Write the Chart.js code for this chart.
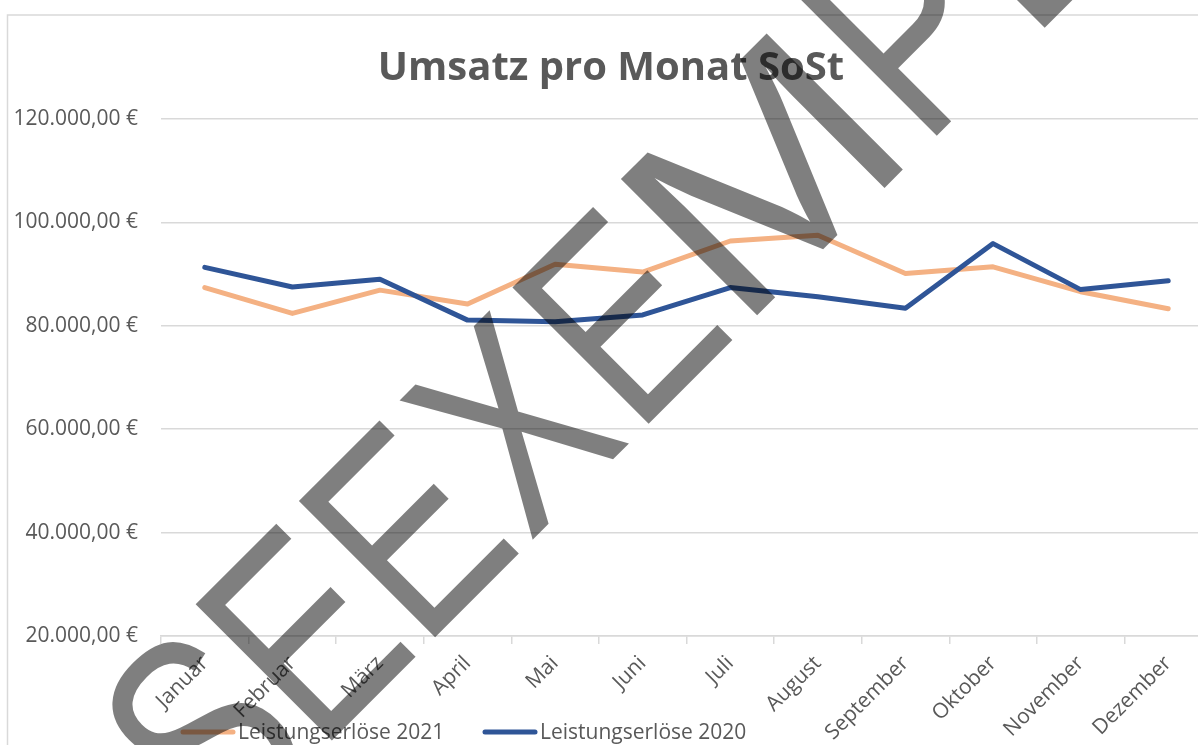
<!DOCTYPE html>
<html lang="de">
<head>
<meta charset="utf-8">
<title>Umsatz pro Monat SoSt</title>
<script src="https://cdn.jsdelivr.net/npm/chart.js@4.4.1/dist/chart.umd.min.js"></script>
<style>
    html, body { margin: 0; padding: 0; background: #ffffff; overflow: hidden; }
    #wrap { position: absolute; left: 0; top: 0; width: 1240px; height: 745px; }
</style>
</head>
<body>
<div id="wrap"><canvas id="umsatzChart"></canvas></div>
<script>
// Daten
const monate = ['Januar', 'Februar', 'März', 'April', 'Mai', 'Juni', 'Juli', 'August', 'September', 'Oktober', 'November', 'Dezember'];
const erloese2021 = [87400, 82400, 86900, 84200, 91900, 90400, 96400, 97500, 90100, 91400, 86600, 83300];
const erloese2020 = [91300, 87500, 89000, 81100, 80800, 82100, 87400, 85600, 83400, 95900, 87000, 88700];
const yTicks = [20000, 40000, 60000, 80000, 100000, 120000];
const titel = 'Umsatz pro Monat SoSt';
const wasserzeichen = 'SEEXEMPLE';

const textFarbe = '#595959';
const gitterFarbe = '#d9d9d9';

// Format 120.000,00 €
function formatEuro(value) {
    return new Intl.NumberFormat('de-DE', { minimumFractionDigits: 2, maximumFractionDigits: 2 }).format(value) + ' €';
}

// Wasserzeichen Buchstabe fuer Buchstabe (schmale Schrift nachgebildet)
function zeichneWasserzeichen(ctx) {
    const vorschub = { S: 138, E: 146, X: 156, M: 257, P: 155, L: 126 };
    const breite = { M: 1.1 };
    const idxX = wasserzeichen.indexOf('X');

    // Startposition so, dass die Mitte des "X" im Ursprung liegt
    let pos = -vorschub.X / 2;
    for (let i = 0; i < idxX; i++) pos -= vorschub[wasserzeichen[i]];

    ctx.save();
    ctx.translate(510, 421);
    ctx.rotate(-Math.PI / 4);
    ctx.fillStyle = 'rgba(0, 0, 0, 0.5)';
    ctx.font = '280px "Liberation Sans"';
    ctx.textAlign = 'center';
    ctx.textBaseline = 'alphabetic';
    for (const ch of wasserzeichen) {
        const w = vorschub[ch];
        ctx.save();
        ctx.translate(pos + w / 2, 0);
        ctx.scale(breite[ch] || 0.78, 1);
        ctx.fillText(ch, 0, 100);
        ctx.restore();
        pos += w;
    }
    ctx.restore();
}

// Rahmen, Titel, Legende und Wasserzeichen
const extrasPlugin = {
    id: 'extras',
    afterDraw(chart) {
        const ctx = chart.ctx;
        ctx.save();

        // Rahmen des Diagramms
        ctx.strokeStyle = gitterFarbe;
        ctx.lineWidth = 1.5;
        ctx.beginPath();
        ctx.moveTo(7.5, 760);
        ctx.lineTo(7.5, 15);
        ctx.lineTo(1240, 15);
        ctx.stroke();

        // Titel
        ctx.fillStyle = textFarbe;
        ctx.font = 'bold 40px "Open Sans"';
        ctx.textAlign = 'center';
        ctx.textBaseline = 'alphabetic';
        ctx.fillText(titel, 611, 80);

        // Legende
        ctx.font = '21px "Open Sans"';
        ctx.textAlign = 'left';
        const legendX = [180, 482];
        chart.data.datasets.forEach(function (ds, i) {
            ctx.strokeStyle = ds.borderColor;
            ctx.lineWidth = 5;
            ctx.lineCap = 'round';
            ctx.beginPath();
            ctx.moveTo(legendX[i] + 3, 732);
            ctx.lineTo(legendX[i] + 53, 732);
            ctx.stroke();
            ctx.fillStyle = textFarbe;
            ctx.fillText(ds.label, legendX[i] + 58, 739);
        });
        ctx.restore();

        zeichneWasserzeichen(ctx);
    }
};

const ctx = document.getElementById('umsatzChart');

new Chart(ctx, {
    type: 'line',
    data: {
        labels: monate,
        datasets: [
            {
                label: 'Leistungserlöse 2021',
                data: erloese2021,
                borderColor: '#f4b183',
                backgroundColor: '#f4b183',
                borderWidth: 5,
                pointRadius: 0,
                tension: 0,
                borderCapStyle: 'round',
                borderJoinStyle: 'round',
                order: 1,
            },
            {
                label: 'Leistungserlöse 2020',
                data: erloese2020,
                borderColor: '#2f5597',
                backgroundColor: '#2f5597',
                borderWidth: 5,
                pointRadius: 0,
                tension: 0,
                borderCapStyle: 'round',
                borderJoinStyle: 'round',
                order: 0,
            },
        ],
    },
    options: {
        responsive: true,
        maintainAspectRatio: false,
        animation: false,
        layout: {
            padding: { top: 119, right: 28, left: 0, bottom: 0 }
        },
        plugins: {
            legend: { display: false },
            title: { display: false },
            tooltip: { enabled: false }
        },
        scales: {
            x: {
                offset: true,
                grid: {
                    offset: true,
                    drawOnChartArea: false,
                    drawTicks: true,
                    tickLength: 8,
                    color: gitterFarbe,
                    lineWidth: 1.5
                },
                border: { display: true, color: gitterFarbe, width: 1.5 },
                ticks: {
                    color: textFarbe,
                    font: { family: 'Open Sans', size: 21 },
                    minRotation: 45,
                    maxRotation: 45,
                    padding: 7,
                    autoSkip: false
                },
                afterFit: function (scale) {
                    scale.height = 109;
                }
            },
            y: {
                min: 20000,
                max: 120000,
                afterBuildTicks: function (scale) {
                    scale.ticks = yTicks.map(v => ({ value: v }));
                },
                grid: {
                    color: gitterFarbe,
                    lineWidth: 1.5,
                    drawTicks: false
                },
                border: { display: false },
                ticks: {
                    color: textFarbe,
                    font: { family: 'Open Sans', size: 21 },
                    padding: 23,
                    callback: function (value) {
                        return formatEuro(value);
                    }
                },
                afterFit: function (scale) {
                    scale.width = 161;
                }
            }
        }
    },
    plugins: [extrasPlugin]
});
</script>
</body>
</html>
